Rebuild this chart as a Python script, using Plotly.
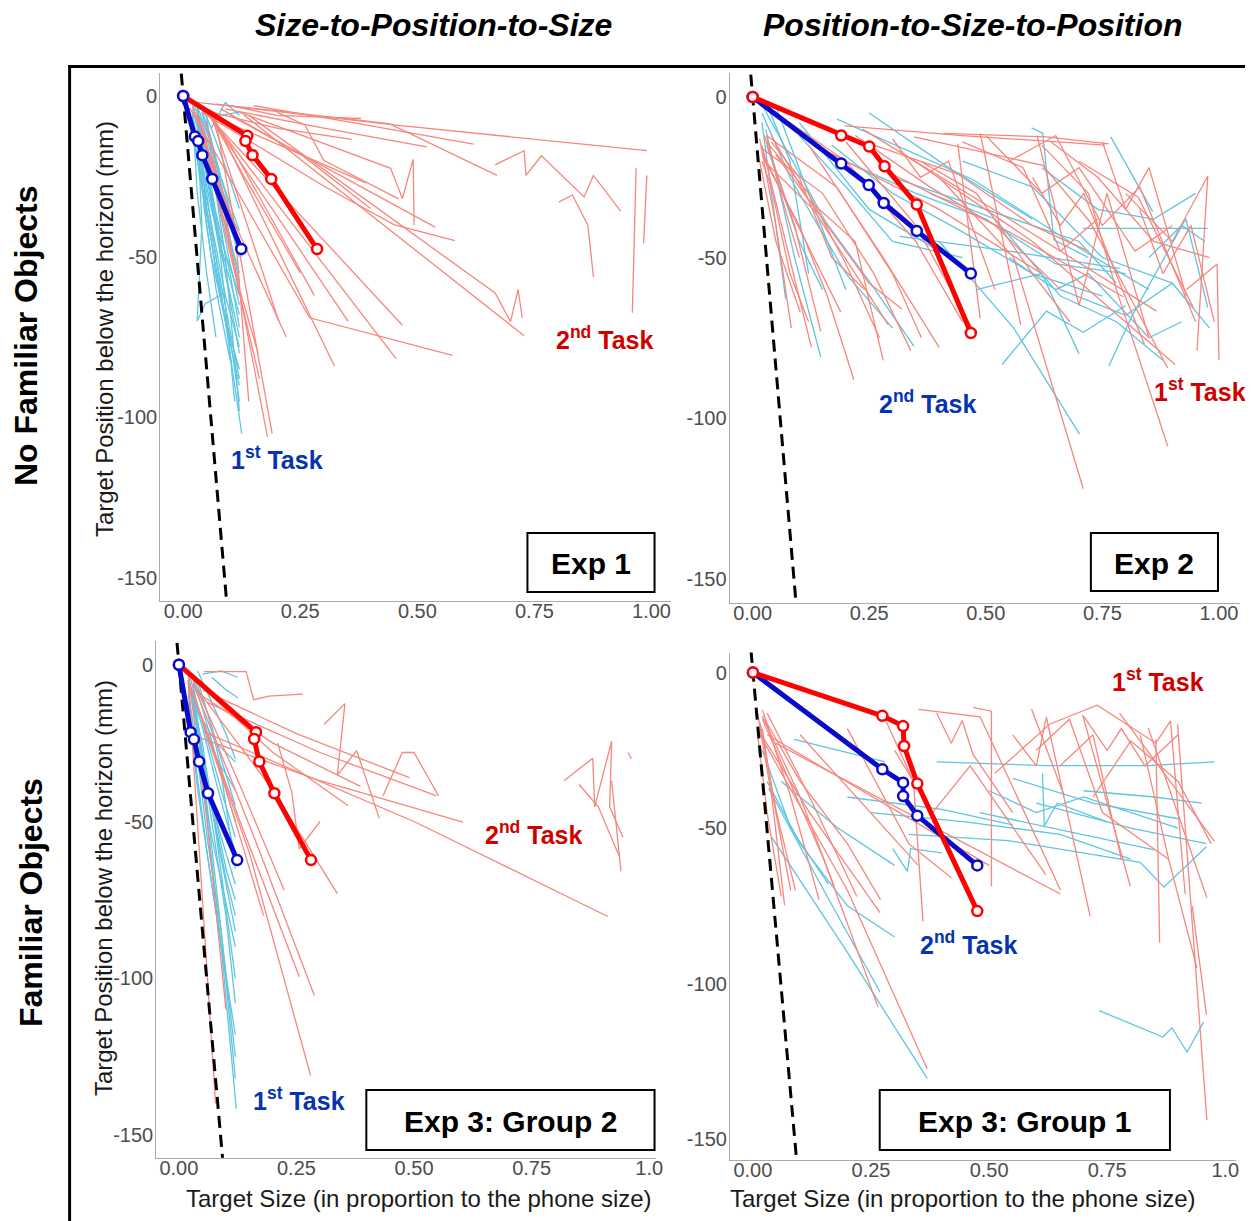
import plotly.graph_objects as go

# The page body keeps an 8px margin; the captured page is slightly wider than the window,
# so horizontal pixel targets are pre-scaled by SX.
OFF = 8
FW, FH = 1253, 1213
SX = 1261 / 1253
FONT = "Liberation Sans, Arial, sans-serif"

# ---------------- mean trajectories (bold lines) ----------------
p1_blue_x = [0, 0.025, 0.032, 0.041, 0.062, 0.124]
p1_blue_y = [0, -12.6, -14.0, -18.4, -25.8, -47.6]
p1_red_x = [0, 0.137, 0.133, 0.148, 0.188, 0.286]
p1_red_y = [0, -12.4, -14.0, -18.4, -25.8, -47.6]

p2_red_x = [0, 0.19, 0.25, 0.283, 0.352, 0.468]
p2_red_y = [0, -12.0, -15.4, -21.6, -33.5, -73.5]
p2_blue_x = [0, 0.19, 0.249, 0.281, 0.352, 0.468]
p2_blue_y = [0, -20.7, -27.4, -33.0, -41.7, -55.0]

p3_blue_x = [0, 0.025, 0.032, 0.043, 0.062, 0.124]
p3_blue_y = [0, -21.5, -23.8, -30.9, -41.0, -62.3]
p3_red_x = [0, 0.164, 0.160, 0.171, 0.203, 0.281]
p3_red_y = [0, -21.5, -23.7, -30.9, -41.0, -62.3]

p4_red_x = [0, 0.274, 0.318, 0.320, 0.348, 0.475]
p4_red_y = [0, -13.9, -17.2, -23.6, -35.7, -76.7]
p4_blue_x = [0, 0.274, 0.318, 0.318, 0.348, 0.475]
p4_blue_y = [0, -31.1, -35.4, -39.7, -46.0, -62.0]

# dashed reference line (size vs. position)
dash_x = [-0.004, 0.095]
dash_y = [7, -161]

# ---------------- individual trajectories (thin lines) ----------------
p1_blue_thin = [
    ([0.02, 0.04, 0.07, 0.10, 0.12], [-3, -12, -25, -38, -45]),
    ([0.025, 0.05, 0.08, 0.12], [-5, -18, -35, -55]),
    ([0.02, 0.04, 0.06, 0.09, 0.12], [-6, -20, -35, -52, -68]),
    ([0.03, 0.05, 0.08, 0.12], [-4, -22, -48, -75]),
    ([0.02, 0.035, 0.06, 0.09, 0.12], [-8, -25, -45, -70, -90]),
    ([0.03, 0.05, 0.08, 0.125], [-10, -30, -60, -105]),
    ([0.03, 0.06, 0.09, 0.12], [-7, -28, -55, -80]),
    ([0.04, 0.07, 0.10, 0.12], [-5, -20, -40, -50]),
    ([0.05, 0.08, 0.12], [-8, -25, -42]),
    ([0.02, 0.03, 0.05, 0.07], [-5, -30, -55, -75]),
    ([0.03, 0.045, 0.06, 0.09, 0.12], [-5, -35, -50, -70, -85]),
    ([0.03, 0.04, 0.03, 0.047, 0.088], [-8, -40, -70, -64.6, -61.3]),
    ([0.05, 0.08, 0.12], [-4, -6, -5]),
    ([0.03, 0.05, 0.08, 0.11], [-6, -25, -50, -95]),
    ([0.03, 0.06, 0.09, 0.125], [-3, -15, -30, -50]),
    ([0.04, 0.06, 0.09, 0.12], [-3, -10, -22, -35]),
    ([0.03, 0.05, 0.07, 0.10, 0.12], [-9, -35, -55, -75, -95]),
    ([0.02, 0.04, 0.07, 0.12], [-4, -15, -40, -62]),
    ([0.02, 0.05, 0.08, 0.12], [-12, -35, -58, -88]),
    ([0.03, 0.04, 0.06, 0.10, 0.12], [-3, -18, -30, -55, -72]),
    ([0.05, 0.07, 0.09, 0.12], [-6, -30, -50, -98]),
    ([0.04, 0.06, 0.08, 0.11], [-4, -14, -28, -44]),
    ([0.02, 0.04, 0.06, 0.08, 0.12], [-2, -8, -18, -30, -58]),
    ([0.03, 0.05, 0.07, 0.10], [-15, -40, -60, -82]),
    ([0.06, 0.09, 0.12], [-10, -2, -6]),
    ([0.02, 0.05, 0.09, 0.12], [-6, -32, -62, -78]),
    ([0.03, 0.06, 0.10, 0.12], [-4, -22, -52, -65]),
]
p1_red_thin = [
    ([0.03, 0.45, 0.99], [-2, -9, -17]),
    ([0.07, 0.44, 0.67], [-2.5, -8.6, -24.7]),
    ([0.09, 0.30, 0.52], [-4, -10, -15.8]),
    ([0.666, 0.728, 0.732, 0.765, 0.856, 0.876, 0.934], [-21.4, -17, -24.7, -18.6, -31.4, -24.7, -35.8]),
    ([0.802, 0.831, 0.864, 0.876], [-33, -30.8, -40.2, -56.3]),
    ([0.967, 0.959], [-22.5, -67.4]),
    ([0.99, 0.983], [-24.7, -45.8]),
    ([0.12, 0.443, 0.468, 0.491, 0.493], [-5, -22.5, -31.9, -19.7, -40.2]),
    ([0.14, 0.666, 0.699, 0.715, 0.724], [-6, -61.3, -70.2, -60.2, -69]),
    ([0.13, 0.728], [-5.9, -74.6]),
    ([0.014, 0.27, 0.575], [-3.7, -69, -80.7]),
    ([0.05, 0.455], [-5, -81.8]),
    ([0.06, 0.323], [-5, -84]),
    ([0.05, 0.18], [-8, -106]),
    ([0.07, 0.19], [-8, -105]),
    ([0.04, 0.468], [-4, -71.3]),
    ([0.05, 0.352], [-5, -70]),
    ([0.06, 0.204], [-6, -70]),
    ([0.10, 0.538], [-6, -40.8]),
    ([0.06, 0.20, 0.36], [-5, -10, -13.5]),
    ([0.03, 0.163], [-5, -88]),
    ([0.04, 0.12, 0.16], [-8, -60, -80]),
    ([0.06, 0.39], [-6, -27]),
    ([0.20, 0.26, 0.30, 0.46], [-5, -9, -20, -32]),
    ([0.04, 0.10, 0.28], [-3, -15, -62]),
    ([0.05, 0.13, 0.25], [-4, -25, -55]),
    ([0.03, 0.08, 0.22], [-6, -30, -75]),
    ([0.08, 0.25, 0.40], [-4, -18, -35]),
    ([0.02, 0.11, 0.14], [-3, -40, -95]),
    ([0.10, 0.20, 0.38], [-3, -6, -7]),
    ([0.15, 0.35, 0.62], [-3, -8, -15]),
    ([0.04, 0.30, 0.45, 0.58], [-5, -28, -40, -45]),
]

p2_red_thin = [
    ([0.015, 0.05, 0.083], [-13, -40, -72]),
    ([0.02, 0.07, 0.126], [-15, -45, -78]),
    ([0.025, 0.09, 0.146], [-12, -40, -73]),
    ([0.02, 0.10, 0.16, 0.217], [-18, -40, -62, -88]),
    ([0.03, 0.12, 0.20, 0.272], [-14, -30, -52, -75]),
    ([0.02, 0.15, 0.26, 0.339], [-16, -30, -55, -79]),
    ([0.03, 0.18, 0.30, 0.362], [-12, -28, -55, -75]),
    ([0.025, 0.13, 0.22, 0.291], [-20, -35, -55, -71]),
    ([0.02, 0.08, 0.189], [-17, -35, -67]),
    ([0.015, 0.05, 0.102], [-20, -45, -67]),
    ([0.04, 0.10, 0.17, 0.24], [-14, -25, -50, -60]),
    ([0.03, 0.06, 0.10], [-12, -30, -50]),
    ([0.05, 0.15, 0.25, 0.32], [-18, -38, -58, -66]),
    ([0.02, 0.04, 0.08, 0.12], [-20, -28, -55, -70]),
    ([0.197, 0.45, 0.756], [-9, -12, -15]),
    ([0.409, 0.63, 0.764], [-11.3, -12.4, -14.6]),
    ([0.346, 0.622, 0.724, 0.89], [-12.4, -21.3, -39, -84.4]),
    ([0.61, 0.70, 0.76, 0.85], [-12, -65, -30, -75]),
    ([0.80, 0.90, 0.976, 0.953], [-30, -45, -24.6, -79]),
    ([0.93, 0.996, 1.0], [-60, -52, -82]),
    ([0.40, 0.56, 0.709], [-25, -50, -122]),
    ([0.488, 0.575], [-11.3, -71]),
    ([0.44, 0.488], [-14.6, -68.9]),
    ([0.70, 0.827, 0.945], [-20, -31.2, -65.6]),
    ([0.236, 0.55, 0.866], [-10, -38, -66.7]),
    ([0.315, 0.60, 0.906], [-16.8, -45, -83.3]),
    ([0.276, 0.55, 0.795], [-22.4, -42, -62.2]),
    ([0.62, 0.72, 0.78, 0.89], [-15, -30, -60, -108.7]),
    ([0.30, 0.36, 0.42, 0.52], [-13, -25, -20, -60]),
    ([0.55, 0.65, 0.75, 0.83, 0.95], [-20, -12, -40, -28, -70]),
    ([0.20, 0.35, 0.47], [-14, -40, -72]),
    ([0.75, 0.80, 0.85, 0.93], [-14, -35, -22, -62]),
    ([0.16, 0.40, 0.62], [-17, -35, -55]),
    ([0.60, 0.66, 0.71, 0.84], [-25, -40, -30, -77]),
    ([0.05, 0.20, 0.35, 0.45], [-5, -20, -45, -70]),
    ([0.22, 0.38, 0.52, 0.66], [-12, -28, -40, -60]),
    ([0.50, 0.62, 0.70, 0.82, 0.90], [-12, -30, -22, -48, -40]),
    ([0.64, 0.74, 0.86, 0.98], [-14, -25, -45, -50]),
    ([0.36, 0.48, 0.60, 0.68], [-20, -30, -55, -70]),
    ([0.12, 0.28, 0.40], [-15, -50, -78]),
    ([0.83, 0.88, 0.94, 0.99], [-35, -55, -40, -70]),
    ([0.45, 0.58, 0.66, 0.74], [-14, -22, -48, -38]),
    ([0.26, 0.44, 0.60, 0.72], [-15, -24, -40, -48]),
    ([0.04, 0.12, 0.22, 0.28], [-12, -32, -45, -82]),
]
p2_blue_thin = [
    ([0.028, 0.09, 0.146], [-10, -50, -81]),
    ([0.02, 0.05, 0.071], [-8, -40, -63]),
    ([0.016, 0.157, 0.252, 0.346], [-1.3, -39, -57.8, -77.7]),
    ([0.181, 0.472, 0.709, 0.85], [-6.9, -25.7, -47.8, -60]),
    ([0.709, 0.85, 0.976], [-40.9, -40.9, -40.9]),
    ([0.598, 0.622, 0.646, 0.72], [-9.6, -11.3, -44.5, -50]),
    ([0.768, 0.858], [-12.4, -35.7]),
    ([0.535, 0.63, 0.709, 0.80], [-83.3, -66.7, -73.3, -65]),
    ([0.40, 0.56, 0.701], [-45, -72, -105]),
    ([0.764, 0.811, 0.929, 0.976], [-83.8, -68.9, -37.9, -65.6]),
    ([0.315, 0.55, 0.787], [-43.4, -48, -53.4]),
    ([0.30, 0.50, 0.70, 0.78], [-25, -35, -45, -58]),
    ([0.02, 0.08, 0.20, 0.30], [-5, -25, -55, -72]),
    ([0.05, 0.12, 0.20], [-3, -30, -60]),
    ([0.17, 0.30, 0.45, 0.60, 0.75], [-15, -30, -42, -55, -62]),
    ([0.55, 0.65, 0.72, 0.85, 0.92], [-50, -60, -55, -75, -70]),
    ([0.25, 0.42, 0.60], [-5, -22, -38]),
    ([0.10, 0.25, 0.40], [-8, -35, -48]),
    ([0.85, 0.92, 0.97], [-50, -40, -45]),
    ([0.45, 0.60, 0.75, 0.90], [-20, -28, -50, -58]),
    ([0.03, 0.10, 0.15], [-15, -45, -60]),
    ([0.03, 0.08, 0.12], [-2, -20, -55]),
    ([0.20, 0.35, 0.50, 0.65, 0.80], [-20, -30, -38, -52, -55]),
    ([0.38, 0.52, 0.66, 0.78, 0.88], [-30, -38, -62, -70, -82]),
    ([0.62, 0.74, 0.86, 0.95], [-22, -35, -38, -30]),
    ([0.10, 0.20, 0.30, 0.45], [-12, -28, -45, -50]),
    ([0.48, 0.62, 0.70], [-60, -55, -80]),
    ([0.66, 0.80, 0.90, 0.98], [-60, -68, -58, -72]),
]

p3_blue_thin = [
    ([0.02, 0.05, 0.08, 0.12], [-5, -20, -38, -60]),
    ([0.02, 0.04, 0.07, 0.12], [-8, -30, -55, -90]),
    ([0.03, 0.05, 0.09, 0.122], [-4, -35, -90, -141.6]),
    ([0.02, 0.05, 0.08, 0.12], [-6, -25, -55, -100]),
    ([0.03, 0.06, 0.09, 0.12], [-3, -15, -30, -45]),
    ([0.04, 0.07, 0.10, 0.12], [-2, -12, -22, -30]),
    ([0.02, 0.04, 0.06, 0.09, 0.12], [-10, -30, -55, -85, -125]),
    ([0.05, 0.09, 0.125], [-3, -2, -4]),
    ([0.07, 0.10, 0.126], [-4, -8, -10.6]),
    ([0.04, 0.08, 0.12], [-15, -25, -31]),
    ([0.02, 0.04, 0.07, 0.10, 0.12], [-4, -22, -45, -68, -80]),
    ([0.03, 0.06, 0.10, 0.12], [-7, -40, -80, -108]),
    ([0.02, 0.05, 0.10, 0.12], [-3, -28, -65, -75]),
    ([0.03, 0.05, 0.08, 0.12], [-12, -30, -50, -70]),
    ([0.02, 0.03, 0.06, 0.10], [-6, -25, -60, -100]),
    ([0.05, 0.08, 0.12], [-18, -30, -40]),
    ([0.02, 0.05, 0.09, 0.12], [-2, -18, -40, -55]),
    ([0.03, 0.06, 0.09, 0.12], [-9, -45, -85, -132]),
    ([0.04, 0.07, 0.10, 0.12], [-5, -20, -40, -50]),
    ([0.02, 0.04, 0.08, 0.12], [-12, -40, -80, -118]),
    ([0.03, 0.05, 0.09, 0.12], [-4, -14, -35, -65]),
    ([0.02, 0.05, 0.09, 0.12], [-5, -30, -62, -85]),
]
p3_red_thin = [
    ([0.02, 0.15, 0.28], [-5, -60, -131]),
    ([0.03, 0.16, 0.288], [-6, -55, -105.5]),
    ([0.02, 0.13, 0.256], [-5, -50, -99.5]),
    ([0.04, 0.20, 0.337], [-8, -40, -73]),
    ([0.03, 0.12, 0.224], [-5, -35, -71.9]),
    ([0.053, 0.50, 0.912], [-21.4, -50, -80.3]),
    ([0.04, 0.30, 0.604], [-23, -37, -50.2]),
    ([0.06, 0.30, 0.548], [-12, -28, -41.8]),
    ([0.05, 0.20, 0.386], [-10, -25, -38.8]),
    ([0.434, 0.475, 0.50, 0.552], [-41.8, -28, -28, -41.8]),
    ([0.053, 0.143, 0.159, 0.191, 0.264], [-2.2, -2.2, -11.2, -10, -9.4]),
    ([0.819, 0.88, 0.884, 0.92, 0.916, 0.944], [-37, -29.8, -45.4, -24.4, -45.4, -55]),
    ([0.851, 0.892, 0.936], [-38.2, -45.4, -61]),
    ([0.92, 0.94], [-37, -65.9]),
    ([0.02, 0.078], [-5, -140]),
    ([0.955, 0.962], [-28, -30]),
    ([0.309, 0.353, 0.337, 0.378, 0.426], [-19, -12.4, -35.2, -27.4, -49]),
    ([0.21, 0.24, 0.256, 0.30], [-25, -40.6, -58.7, -50]),
    ([0.02, 0.10, 0.18], [-5, -40, -80]),
    ([0.02, 0.06, 0.10], [-3, -50, -110]),
    ([0.04, 0.20, 0.36], [-6, -28, -45]),
    ([0.05, 0.25, 0.49], [-8, -22, -36]),
]

p4_red_thin = [
    ([0.01, 0.04, 0.067], [-13, -40, -74.8]),
    ([0.015, 0.05, 0.09], [-16, -45, -70]),
    ([0.02, 0.10, 0.172], [-14, -40, -68.7]),
    ([0.01, 0.12, 0.269], [-18, -45, -77.2]),
    ([0.02, 0.15, 0.265], [-15, -60, -107.5]),
    ([0.015, 0.20, 0.369], [-20, -70, -127.5]),
    ([0.03, 0.12, 0.22], [-13, -40, -72]),
    ([0.01, 0.03, 0.06], [-20, -45, -72]),
    ([0.02, 0.08, 0.14], [-12, -40, -73]),
    ([0.025, 0.10, 0.20, 0.27], [-15, -35, -55, -73]),
    ([0.02, 0.04, 0.08], [-18, -38, -70]),
    ([0.35, 0.481, 0.651], [-11.8, -14.2, -69.9]),
    ([0.466, 0.505, 0.505], [-11.2, -12.4, -68.7]),
    ([0.512, 0.628, 0.729, 0.853, 0.884, 0.915], [-32.4, -16.6, -10.5, -22.7, -15.5, -71.2]),
    ([0.853, 0.861], [-21.5, -86.9]),
    ([0.899, 0.961], [-16.6, -143.9]),
    ([0.59, 0.659], [-11.8, -39.6]),
    ([0.621, 0.714], [-14.2, -78.4]),
    ([0.698, 0.799], [-13.6, -68.7]),
    ([0.776, 0.977], [-13, -54.2]),
    ([0.837, 0.961], [-17.8, -72.4]),
    ([0.389, 0.42, 0.443, 0.466, 0.55], [-13, -22.7, -15.4, -26.3, -45]),
    ([0.048, 0.651], [-22.7, -71.2]),
    ([0.03, 0.50], [-20, -62]),
    ([0.20, 0.33, 0.42], [-18, -55, -66]),
    ([0.10, 0.25, 0.35], [-20, -45, -62]),
    ([0.70, 0.75, 0.78, 0.83, 0.90], [-14, -25, -18, -30, -20]),
    ([0.82, 0.85, 0.88, 0.94], [-20, -40, -60, -95]),
    ([0.65, 0.72, 0.78], [-30, -20, -60]),
    ([0.28, 0.34, 0.36], [-15, -35, -80]),
    ([0.93, 0.96], [-75, -110]),
    ([0.55, 0.60, 0.62], [-20, -30, -15]),
    ([0.30, 0.38, 0.46, 0.62], [-25, -45, -30, -65]),
    ([0.60, 0.67, 0.74, 0.88], [-25, -15, -45, -60]),
    ([0.72, 0.80, 0.90, 0.97], [-40, -22, -35, -55]),
]
p4_blue_thin = [
    ([0.033, 0.15, 0.269], [-37.2, -70, -102.7]),
    ([0.04, 0.20, 0.369], [-53, -90, -130.5]),
    ([0.087, 0.18, 0.28], [-21.5, -25, -28.7]),
    ([0.389, 0.621, 0.837, 0.977], [-28.7, -29.9, -29.9, -28.7]),
    ([0.733, 0.868, 0.887, 0.919, 0.954], [-108.7, -117.2, -114.2, -122, -112.4]),
    ([0.613, 0.617, 0.644, 0.75], [-32.4, -49.3, -42, -48]),
    ([0.296, 0.327, 0.334, 0.40], [-56.6, -63.9, -56.6, -58]),
    ([0.33, 0.54, 0.82, 0.87, 0.96], [-52, -54, -61, -69, -56]),
    ([0.60, 0.80, 0.96], [-42, -50, -55]),
    ([0.48, 0.70, 0.85], [-45, -52, -57]),
    ([0.02, 0.08, 0.16], [-25, -50, -68]),
    ([0.03, 0.10, 0.20, 0.30], [-35, -55, -75, -85]),
    ([0.20, 0.40, 0.55], [-40, -44, -49]),
    ([0.70, 0.85, 0.95], [-38, -40, -42]),
    ([0.55, 0.72, 0.90], [-34, -42, -47]),
    ([0.06, 0.18, 0.30], [-35, -50, -62]),
    ([0.25, 0.45, 0.65, 0.80], [-45, -48, -52, -60]),
    ([0.50, 0.60, 0.70, 0.90], [-38, -45, -40, -50]),
]

x_ticks = [0, 0.25, 0.5, 0.75, 1.0]
x_ticktext_top = ["0.00", "0.25", "0.50", "0.75", "1.00"]
x_ticktext_bottom = ["0.00", "0.25", "0.50", "0.75", "1.0"]
y_ticks = [0, -50, -100, -150]
y_ticktext = ["0", "-50", "-100", "-150"]

col_titles = ["Size-to-Position-to-Size", "Position-to-Size-to-Position"]
row_titles = ["No Familiar Objects", "Familiar Objects"]
y_title = "Target Position below the horizon (mm)"
x_title = "Target Size (in proportion to the phone size)"
exp_labels = ["Exp 1", "Exp 2", "Exp 3: Group 2", "Exp 3: Group 1"]

# ---------------- styles ----------------
SALMON = "#F6877E"
SKY = "#5EC5E1"
RED = "#FF0000"
BLUE = "#0A0ACC"
RED_TXT = "#D00000"
BLUE_TXT = "#0634B0"


def px(x):
    return (x * SX - OFF) / FW


def py(y):
    return 1 - (y - OFF) / FH


# panel geometry (window-pixel domains, data ranges)
panels = [
    dict(dx=(160, 670), dy=(73, 601), xr=(-0.0491, 1.0406), yr=(-157.1, 7.16), tt=x_ticktext_top),
    dict(dx=(729, 1239), dy=(73, 603), xr=(-0.0494, 1.0451), yr=(-157.6, 7.48), tt=x_ticktext_top),
    dict(dx=(156, 655.5), dy=(641, 1157.7), xr=(-0.0483, 1.0145), yr=(-157.2, 7.56), tt=x_ticktext_bottom),
    dict(dx=(729.3, 1234.6), dy=(652.6, 1159.6), xr=(-0.0487, 1.0218), yr=(-156.6, 6.43), tt=x_ticktext_bottom),
]

panel_data = [
    dict(thin=[(p1_blue_thin, SKY), (p1_red_thin, SALMON)],
         bold=[(p1_red_x, p1_red_y, RED), (p1_blue_x, p1_blue_y, BLUE)]),
    dict(thin=[(p2_blue_thin, SKY), (p2_red_thin, SALMON)],
         bold=[(p2_blue_x, p2_blue_y, BLUE), (p2_red_x, p2_red_y, RED)]),
    dict(thin=[(p3_blue_thin, SKY), (p3_red_thin, SALMON)],
         bold=[(p3_red_x, p3_red_y, RED), (p3_blue_x, p3_blue_y, BLUE)]),
    dict(thin=[(p4_blue_thin, SKY), (p4_red_thin, SALMON)],
         bold=[(p4_blue_x, p4_blue_y, BLUE), (p4_red_x, p4_red_y, RED)]),
]

fig = go.Figure()
layout = dict(width=FW, height=FH, margin=dict(l=0, r=0, t=0, b=0),
              paper_bgcolor="white", plot_bgcolor="white", showlegend=False,
              font=dict(family=FONT))

for i, (p, d) in enumerate(zip(panels, panel_data)):
    n = "" if i == 0 else str(i + 1)
    xa, ya = "x" + n, "y" + n
    for lines, col in d["thin"]:
        for xs, ys in lines:
            fig.add_trace(go.Scatter(x=xs, y=ys, mode="lines", xaxis=xa, yaxis=ya,
                                     line=dict(color=col, width=1.3), hoverinfo="skip"))
    fig.add_trace(go.Scatter(x=dash_x, y=dash_y, mode="lines", xaxis=xa, yaxis=ya,
                             line=dict(color="black", width=3, dash="12px,7px"), hoverinfo="skip"))
    for xs, ys, col in d["bold"]:
        fig.add_trace(go.Scatter(x=xs, y=ys, mode="lines+markers", xaxis=xa, yaxis=ya,
                                 line=dict(color=col, width=5),
                                 marker=dict(symbol="circle", size=10, color="white",
                                             line=dict(color=col, width=2.5))))
    layout["xaxis" + n] = dict(domain=[px(p["dx"][0]), px(p["dx"][1])], range=list(p["xr"]),
                               anchor=ya, showline=True, linecolor="#AAAAAA", linewidth=1,
                               showgrid=False, zeroline=False, ticks="", ticklabelstandoff=-8,
                               tickvals=x_ticks, ticktext=p["tt"],
                               tickfont=dict(size=20, color="#4D4D4D", family=FONT))
    layout["yaxis" + n] = dict(domain=[py(p["dy"][1]), py(p["dy"][0])], range=list(p["yr"]),
                               anchor=xa, showline=True, linecolor="#AAAAAA", linewidth=1,
                               showgrid=False, zeroline=False, ticks="", ticklabelstandoff=-2,
                               tickvals=y_ticks, ticktext=y_ticktext,
                               tickfont=dict(size=20, color="#4D4D4D", family=FONT))

annotations = []
shapes = []


def ann(text, x, y, size, color="black", angle=0):
    annotations.append(dict(text=text, x=px(x), y=py(y), xref="paper", yref="paper",
                            showarrow=False, textangle=angle, xanchor="center", yanchor="middle",
                            font=dict(size=size, color=color, family=FONT)))


# column and row titles
ann("<b><i>" + col_titles[0] + "</i></b>", 433, 25, 32)
ann("<b><i>" + col_titles[1] + "</i></b>", 972, 25, 32)
ann("<b>" + row_titles[0] + "</b>", 26, 336, 32, angle=-90)
ann("<b>" + row_titles[1] + "</b>", 31, 903, 32, angle=-90)

# axis titles
ann(y_title, 105, 329, 24, color="#1A1A1A", angle=-90)
ann(y_title, 103, 888, 24, color="#1A1A1A", angle=-90)
ann(x_title, 419, 1198, 24, color="#1A1A1A")
ann(x_title, 962, 1198, 24, color="#1A1A1A")

# task labels
ann("<b>2<sup>nd</sup> Task</b>", 604, 338, 25, RED_TXT)
ann("<b>1<sup>st</sup> Task</b>", 277, 458, 25, BLUE_TXT)
ann("<b>2<sup>nd</sup> Task</b>", 927, 402, 25, BLUE_TXT)
ann("<b>1<sup>st</sup> Task</b>", 1199, 390, 25, RED_TXT)
ann("<b>2<sup>nd</sup> Task</b>", 533, 833, 25, RED_TXT)
ann("<b>1<sup>st</sup> Task</b>", 299, 1099, 25, BLUE_TXT)
ann("<b>1<sup>st</sup> Task</b>", 1157, 680, 25, RED_TXT)
ann("<b>2<sup>nd</sup> Task</b>", 968, 943, 25, BLUE_TXT)

# experiment boxes
boxes = [(527, 533, 654, 592), (1090, 533, 1217, 591), (366, 1090, 654, 1150), (879, 1090, 1169, 1150)]
for (x0, y0, x1, y1), lab in zip(boxes, exp_labels):
    shapes.append(dict(type="rect", xref="paper", yref="paper", x0=px(x0), x1=px(x1),
                       y0=py(y1), y1=py(y0), line=dict(color="black", width=2),
                       fillcolor="white", layer="above"))
    ann("<b>" + lab + "</b>", (x0 + x1) / 2, (y0 + y1) / 2 + 1, 30)

# outer frame
shapes.append(dict(type="rect", xref="paper", yref="paper", x0=px(69.5), x1=px(1251),
                   y0=-0.05, y1=py(66.5), line=dict(color="black", width=3),
                   fillcolor="rgba(0,0,0,0)", layer="above"))

layout["annotations"] = annotations
layout["shapes"] = shapes
fig.update_layout(**layout)
fig.write_html("out.html", config={"displayModeBar": False})
